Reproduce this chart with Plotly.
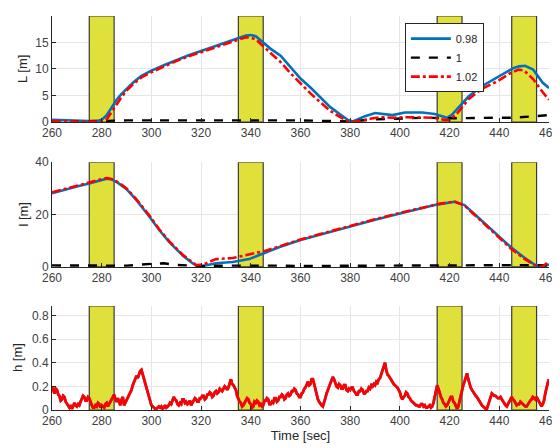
import plotly.graph_objects as go
from plotly.subplots import make_subplots

# ---------------- data ----------------
series_names = ["0.98", "1", "1.02"]
stop_windows = [(275, 285), (335, 345), (415, 425), (445, 455)]
x_ticks = [260, 280, 300, 320, 340, 360, 380, 400, 420, 440, 460]

# L [m]
t_L_blue = [260, 265, 270, 275, 278, 280, 282, 284, 286, 288, 290, 293, 296, 300, 305, 310, 315,
            320, 325, 330, 335, 338, 340, 342, 345, 348, 352, 356, 360, 364, 368, 372, 376, 379,
            381, 383, 386, 390, 394, 397, 402, 409, 414, 417, 419, 421, 424, 427.6, 432.8, 439.3,
            445.8, 448, 450.4, 453.6, 457.5, 460]
L_blue = [0.4, 0.3, 0.3, 0.2, 0.2, 0.4, 1.3, 2.8, 4.2, 5.3, 6.3, 7.6, 8.7, 9.7, 10.7, 11.7, 12.6,
          13.4, 14.2, 15.0, 15.9, 16.3, 16.4, 16.2, 15.0, 13.8, 12.5, 10.3, 8.2, 6.5, 4.6, 2.8, 1.4, 0.4,
          0.1, 0.5, 1.1, 1.7, 1.5, 1.3, 1.8, 1.8, 1.5, 1.0, 0.8, 1.4, 3.0, 4.8, 6.7, 8.5,
          10.2, 10.5, 10.6, 9.9, 7.4, 6.4]
t_L_red = [260, 265, 270, 275, 280, 282, 284, 286, 288, 290, 293, 296, 300, 305, 310, 315,
           320, 325, 330, 335, 338, 340, 342, 345, 348, 352, 356, 360, 364, 368, 372, 376, 379,
           381, 384, 388, 392, 397, 402, 409, 414, 418, 420, 423, 427.6, 432.8, 439.3,
           444, 447.7, 450, 453.6, 457.5, 460]
L_red = [0.2, 0.1, 0.1, 0.1, 0.1, 0.5, 1.8, 3.3, 4.7, 5.9, 7.3, 8.4, 9.4, 10.5, 11.5, 12.4,
         13.2, 14.0, 14.8, 15.6, 16.0, 15.9, 15.6, 14.3, 13.0, 11.3, 9.2, 7.2, 5.4, 3.7, 2.1, 0.9, 0.2,
         0.0, 0.3, 0.6, 0.9, 0.8, 0.9, 0.9, 0.8, 0.4, 0.4, 1.6, 4.3, 6.2, 7.7,
         9.1, 9.9, 9.7, 8.1, 5.6, 4.2]
t_L_black = [260, 270, 280, 290, 300, 310, 320, 330, 340, 350, 360, 370, 380, 390, 400, 410, 420,
             430, 440, 445, 450, 455, 460]
L_black = [0.1, 0.1, 0.2, 0.3, 0.3, 0.4, 0.3, 0.3, 0.4, 0.3, 0.3, 0.2, 0.1, 0.5, 0.7, 0.8, 0.7,
           0.8, 0.8, 0.8, 0.9, 1.1, 1.3]

# l [m]
t_l = [260, 265, 270, 275.3, 280, 282, 284, 286.7, 290, 294, 299.3, 303.3, 307.3, 312.7, 316, 318,
       320.7, 326, 332.7, 339.3, 346, 351.3, 360, 370, 380, 390, 400, 408, 415.3, 422, 426, 431.3,
       438, 444.7, 450, 454, 456.7, 458, 460]
l_blue = [28.1, 29.5, 30.7, 32.0, 33.3, 33.7, 33.4, 32.0, 29.7, 25.5, 19.1, 13.9, 9.4, 4.3, 1.8, 0.6,
          0.4, 1.4, 1.9, 3.0, 5.5, 7.5, 10.3, 12.9, 15.5, 18.0, 20.4, 22.3, 23.9, 24.9, 23.6, 19.1,
          13.3, 7.5, 3.6, 1.0, 0.1, 0.2, 1.0]
l_red = [28.5, 29.8, 31.0, 32.3, 33.5, 33.9, 33.6, 32.3, 30.0, 25.8, 19.5, 14.2, 9.7, 4.6, 2.0, 0.7,
         0.9, 3.0, 3.4, 4.9, 6.2, 7.8, 10.5, 13.1, 15.7, 18.2, 20.6, 22.5, 24.0, 25.0, 23.4, 18.8,
         12.9, 7.0, 3.2, 0.8, 0.0, 0.5, 2.3]
t_l_black = [260, 270, 280, 290, 300, 305, 310, 320, 330, 340, 350, 360, 380, 400, 420, 440, 450, 460]
l_black = [0.6, 0.5, 0.4, 0.5, 1.2, 1.4, 0.8, 0.4, 0.5, 0.6, 0.5, 0.4, 0.5, 0.5, 0.5, 0.6, 0.7, 0.6]

# h [m] (sampled every 0.5 s)
t_h = [260 + 0.5 * i for i in range(401)]
h_vals = [0.20, 0.16, 0.14, 0.18, 0.17, 0.13, 0.12, 0.08, 0.09, 0.12, 0.11, 0.07, 0.05, 0.03, 0.02, 0.04,
          0.01, 0.03, 0.06, 0.04, 0.03, 0.05, 0.04, 0.07, 0.09, 0.12, 0.11, 0.08, 0.08, 0.11, 0.10, 0.06,
          0.04, 0.02, 0.02, 0.04, 0.03, 0.06, 0.05, 0.02, 0.04, 0.03, 0.02, 0.05, 0.06, 0.03, 0.05, 0.08,
          0.09, 0.12, 0.13, 0.09, 0.07, 0.10, 0.06, 0.04, 0.09, 0.11, 0.04, 0.06, 0.08, 0.11, 0.12, 0.15,
          0.17, 0.21, 0.24, 0.27, 0.29, 0.27, 0.31, 0.33, 0.34, 0.30, 0.26, 0.22, 0.18, 0.14, 0.11, 0.07,
          0.04, 0.03, 0.02, 0.01, 0.01, 0.02, 0.03, 0.02, 0.03, 0.01, 0.02, 0.04, 0.02, 0.03, 0.04, 0.06,
          0.05, 0.08, 0.11, 0.09, 0.08, 0.05, 0.04, 0.06, 0.05, 0.09, 0.09, 0.06, 0.07, 0.05, 0.06, 0.08,
          0.04, 0.06, 0.08, 0.10, 0.09, 0.07, 0.07, 0.10, 0.10, 0.12, 0.12, 0.09, 0.10, 0.13, 0.13, 0.15,
          0.14, 0.11, 0.12, 0.15, 0.16, 0.14, 0.15, 0.18, 0.17, 0.16, 0.18, 0.20, 0.19, 0.17, 0.19, 0.23,
          0.26, 0.22, 0.21, 0.19, 0.17, 0.12, 0.09, 0.07, 0.06, 0.03, 0.04, 0.06, 0.07, 0.10, 0.09, 0.06,
          0.05, 0.02, 0.03, 0.07, 0.06, 0.08, 0.07, 0.04, 0.05, 0.03, 0.04, 0.08, 0.08, 0.10, 0.09, 0.05,
          0.05, 0.07, 0.06, 0.10, 0.10, 0.07, 0.08, 0.11, 0.11, 0.13, 0.12, 0.09, 0.10, 0.13, 0.14, 0.12,
          0.13, 0.16, 0.16, 0.18, 0.17, 0.14, 0.13, 0.11, 0.11, 0.14, 0.15, 0.18, 0.19, 0.22, 0.24, 0.21,
          0.22, 0.26, 0.26, 0.22, 0.18, 0.12, 0.09, 0.07, 0.05, 0.04, 0.03, 0.06, 0.10, 0.14, 0.17, 0.20,
          0.22, 0.25, 0.28, 0.26, 0.23, 0.20, 0.19, 0.22, 0.21, 0.18, 0.18, 0.21, 0.21, 0.17, 0.16, 0.18,
          0.17, 0.19, 0.19, 0.16, 0.15, 0.13, 0.13, 0.16, 0.16, 0.18, 0.17, 0.14, 0.14, 0.16, 0.16, 0.19,
          0.18, 0.21, 0.20, 0.22, 0.21, 0.24, 0.23, 0.26, 0.27, 0.30, 0.33, 0.37, 0.40, 0.34, 0.30, 0.29,
          0.27, 0.25, 0.23, 0.22, 0.21, 0.20, 0.19, 0.17, 0.15, 0.11, 0.09, 0.11, 0.12, 0.15, 0.14, 0.11,
          0.10, 0.08, 0.07, 0.06, 0.05, 0.04, 0.04, 0.03, 0.03, 0.05, 0.05, 0.03, 0.04, 0.02, 0.02, 0.03,
          0.04, 0.02, 0.03, 0.06, 0.12, 0.17, 0.21, 0.18, 0.14, 0.11, 0.09, 0.06, 0.05, 0.03, 0.04, 0.06,
          0.08, 0.11, 0.11, 0.07, 0.06, 0.03, 0.01, 0.03, 0.08, 0.12, 0.17, 0.21, 0.24, 0.28, 0.31, 0.26,
          0.22, 0.19, 0.17, 0.15, 0.14, 0.12, 0.11, 0.09, 0.07, 0.05, 0.04, 0.03, 0.02, 0.01, 0.01, 0.04,
          0.07, 0.11, 0.14, 0.13, 0.12, 0.12, 0.11, 0.10, 0.10, 0.11, 0.09, 0.07, 0.05, 0.04, 0.03, 0.05,
          0.07, 0.09, 0.11, 0.09, 0.08, 0.06, 0.04, 0.05, 0.05, 0.07, 0.06, 0.05, 0.04, 0.03, 0.03, 0.05,
          0.06, 0.08, 0.09, 0.11, 0.10, 0.09, 0.11, 0.09, 0.07, 0.04, 0.03, 0.05, 0.08, 0.14, 0.20, 0.23,
          0.26]

y_ranges = [(0, 20), (0, 40), (0, 0.88)]
y_ticks = [[0, 5, 10, 15], [0, 20, 40], [0, 0.2, 0.4, 0.6, 0.8]]
y_titles = ["L [m]", "l [m]", "h [m]"]

# ---------------- figure ----------------
BLUE = "#0072BD"
RED = "#FF0000"
BLACK = "#000000"
FONT = "Liberation Sans, Arial, sans-serif"

fig = make_subplots(rows=3, cols=1, shared_xaxes=False, vertical_spacing=0.1)

styles = [dict(color=BLUE, width=2.6, dash="solid"),
          dict(color=BLACK, width=2.4, dash="dash"),
          dict(color=RED, width=2.6, dash="dashdot")]

# row 1
for name, tx, ty, st in [(series_names[0], t_L_blue, L_blue, styles[0]),
                         (series_names[1], t_L_black, L_black, styles[1]),
                         (series_names[2], t_L_red, L_red, styles[2])]:
    fig.add_trace(go.Scatter(x=tx, y=ty, mode="lines", name=name, line=st,
                             showlegend=True), row=1, col=1)
# row 2
for name, tx, ty, st in [(series_names[0], t_l, l_blue, styles[0]),
                         (series_names[1], t_l_black, l_black, styles[1]),
                         (series_names[2], t_l, l_red, styles[2])]:
    fig.add_trace(go.Scatter(x=tx, y=ty, mode="lines", name=name, line=st,
                             showlegend=False), row=2, col=1)
# row 3
fig.add_trace(go.Scatter(x=t_h, y=h_vals, mode="lines", name=series_names[0],
                         line=dict(color=BLUE, width=2.6), showlegend=False), row=3, col=1)
fig.add_trace(go.Scatter(x=t_h, y=h_vals, mode="lines", name=series_names[2],
                         line=dict(color=RED, width=2.8), showlegend=False), row=3, col=1)

# yellow windows
for r in range(1, 4):
    for (s, e) in stop_windows:
        fig.add_shape(type="rect", x0=s, x1=e, y0=y_ranges[r - 1][0], y1=y_ranges[r - 1][1],
                      xref=f"x{'' if r == 1 else r}", yref=f"y{'' if r == 1 else r}",
                      fillcolor="#e0e03a", line=dict(color="#3a3a3a", width=1.2),
                      layer="between")

# page body has an 8px margin: figure is 552x440 drawn at offset (8, 8)
W, H = 552, 440
ML, MR, MT, MB = 44, 11, 8, 38
plot_w = W - ML - MR
plot_h = H - MT - MB
domains = [(0.731, 1.0), (0.363, 0.629), (0.0, 0.264)]
title_offsets = [-29, -28, -34]
axis_common = dict(showline=True, linecolor="#262626", linewidth=1, ticks="inside",
                   ticklen=4, tickcolor="#262626", mirror=False, zeroline=False,
                   showgrid=True, gridcolor="#e6e6e6", gridwidth=1, automargin=False,
                   tickfont=dict(family=FONT, size=12, color="#404040"))
for r in range(1, 4):
    fig.update_xaxes(range=[260, 460], tickvals=x_ticks, domain=[0, 1], row=r, col=1,
                     **axis_common)
    fig.update_yaxes(range=list(y_ranges[r - 1]), tickvals=y_ticks[r - 1], domain=list(domains[r - 1]),
                     row=r, col=1, **axis_common)
    d0, d1 = domains[r - 1]
    fig.add_annotation(text=y_titles[r - 1], xref="paper", yref="paper",
                       x=title_offsets[r - 1] / plot_w, y=(d0 + d1) / 2, textangle=-90,
                       showarrow=False, xanchor="center", yanchor="middle",
                       font=dict(family=FONT, size=13, color="#262626"))
fig.update_xaxes(title=dict(text="Time [sec]", font=dict(family=FONT, size=13, color="#262626"),
                            standoff=2), row=3, col=1)

fig.update_layout(
    width=W, height=H,
    margin=dict(l=ML, r=MR, t=MT, b=MB),
    paper_bgcolor="white", plot_bgcolor="white",
    font=dict(family=FONT, size=12, color="#262626"),
    legend=dict(x=0.71, y=0.982, xanchor="left", yanchor="top",
                bgcolor="white", bordercolor="#262626", borderwidth=1,
                font=dict(family=FONT, size=11, color="#262626"),
                itemwidth=40, tracegroupgap=0),
)

fig.write_html("out.html")
